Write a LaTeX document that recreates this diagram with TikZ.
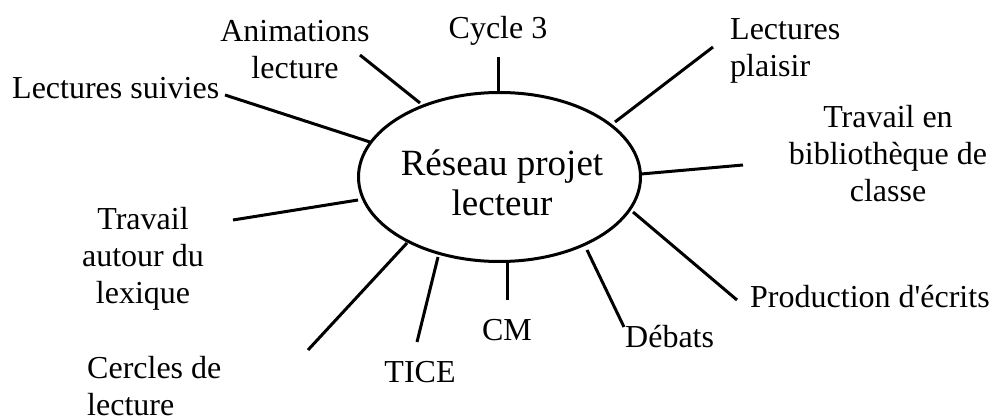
\documentclass[tikz,border=0pt]{standalone}
\usepackage{fontspec}
\setmainfont{Liberation Serif}[Ligatures=TeXOff]
\usetikzlibrary{shapes.geometric}
\begin{document}
\begin{tikzpicture}[x=1pt,y=-1pt,
  lbl/.style={inner sep=0pt,font=\fontsize{32}{37}\selectfont,anchor=base},
  spoke/.style={line width=3pt,black}]
\useasboundingbox (0,0) rectangle (991,420);
% central ellipse
\node[draw,line width=3pt,ellipse,minimum width=282pt,minimum height=169pt,inner sep=0pt] (E) at (499.5,177) {};
\node[inner sep=0pt,anchor=base,align=center,font=\fontsize{37}{40}\selectfont] (Et) at (502,215) {Réseau projet\\lecteur};
% labels
\node[lbl] (cyc) at (498,39) {Cycle 3};
\node[lbl,align=center] (ani) at (295,79) {Animations\\lecture};
\node[lbl,anchor=base west] (sui) at (12,99) {Lectures suivies};
\node[lbl,align=left,anchor=base west] (pla) at (730,77) {Lectures\\plaisir};
\node[lbl,align=center] (bib) at (888,201) {Travail en\\bibliothèque de\\classe};
\node[lbl,align=center] (lex) at (143,303) {Travail\\autour du\\lexique};
\node[lbl,align=left,anchor=base west] (cer) at (87,415) {Cercles de\\lecture};
\node[lbl] (tic) at (420,382) {TICE};
\node[lbl] (cm) at (507,340) {CM};
\node[lbl,anchor=base west] (deb) at (625,347) {Débats};
\node[lbl,anchor=base west] (pro) at (750,307) {Production d'écrits};
% spoke ends
\coordinate (c1) at (498,57);   \coordinate (c2) at (498,92);
\coordinate (a1) at (360,55);   \coordinate (a2) at (420,103);
\coordinate (s1) at (225,95);   \coordinate (s2) at (370,142);
\coordinate (p1) at (713,47);   \coordinate (p2) at (615,122);
\coordinate (b1) at (743,165);  \coordinate (b2) at (641,174);
\coordinate (l1) at (233,220);  \coordinate (l2) at (358,200);
\coordinate (r1) at (308,350);  \coordinate (r2) at (407,243);
\coordinate (t1) at (417,342);  \coordinate (t2) at (438,257);
\coordinate (m1) at (507,300);  \coordinate (m2) at (507,262);
\coordinate (d1) at (624,327);  \coordinate (d2) at (587,250);
\coordinate (o1) at (737,300);  \coordinate (o2) at (633,212);
\foreach \u/\v in {c1/c2,a1/a2,s1/s2,p1/p2,b1/b2,l1/l2,r1/r2,t1/t2,m1/m2,d1/d2,o1/o2}
  \draw[spoke] (\u) -- (\v);
\end{tikzpicture}
\end{document}
